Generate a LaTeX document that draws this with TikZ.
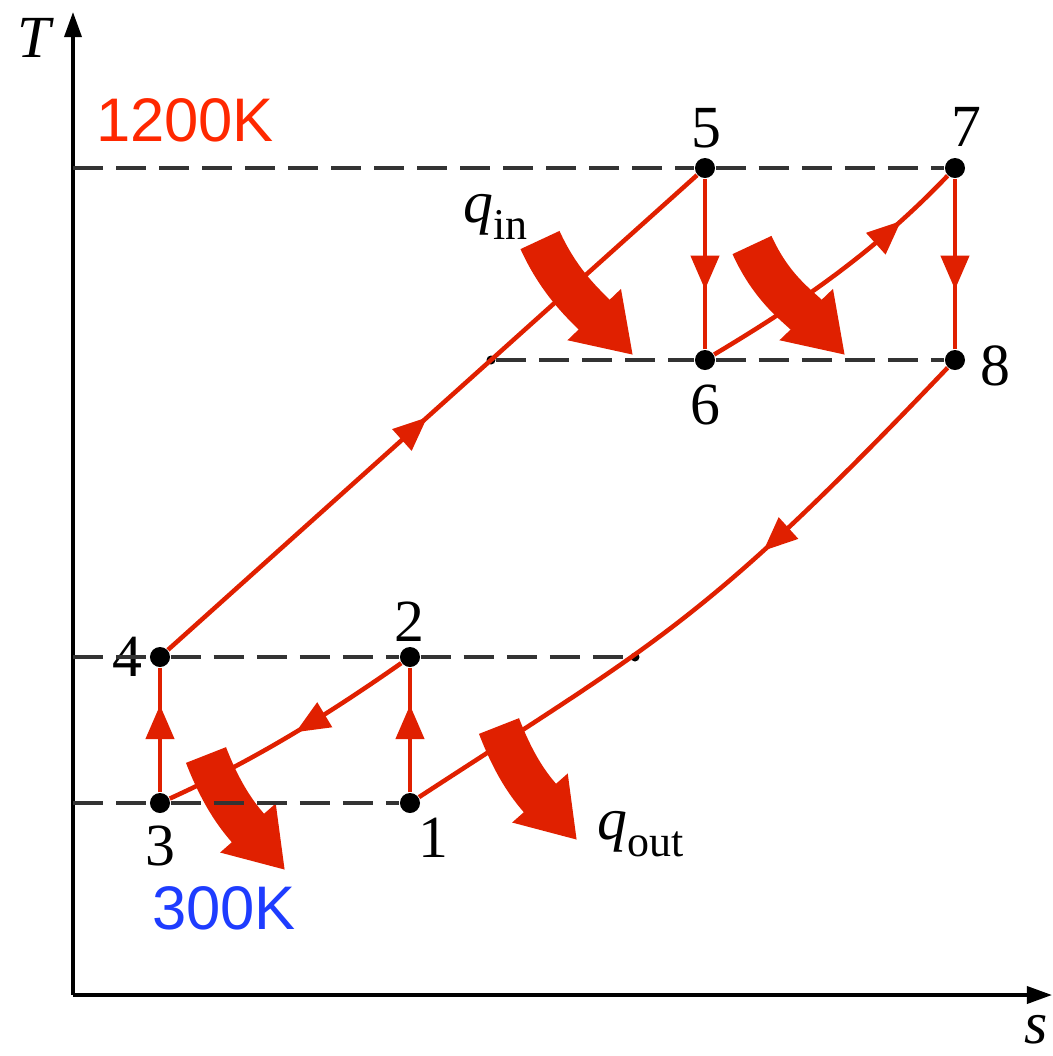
\documentclass[tikz,border=0pt]{standalone}
\usepackage{fontspec}
\setmainfont{Liberation Serif}
\setsansfont{Liberation Sans}
\usepackage{xcolor}
\usepackage{tikz}
\usetikzlibrary{arrows.meta, decorations.markings}

\definecolor{cyclered}{RGB}{224,32,0}
\definecolor{hotred}{RGB}{255,40,0}
\definecolor{coldblue}{RGB}{30,60,255}

\tikzset{
  state/.style = {circle, fill=black, inner sep=0pt, minimum size=0.2cm},
  joint/.style = {circle, fill=black, inner sep=0pt, minimum size=0.09cm},
  lbl/.style = {font=\fontsize{17}{20}\selectfont, inner sep=0pt},
  templbl/.style = {font=\sffamily\fontsize{17.5}{20}\selectfont, inner sep=0pt},
  guide/.style = {draw=black!80, line width=0.04cm, dash pattern=on 0.3cm off 0.13cm},
  process/.style = {draw=cyclered, line width=0.045cm},
  flow/.style = {postaction={decorate}, decoration={markings,
      mark=at position #1 with {\arrow{Triangle[length=0.34cm,width=0.28cm]}}}},
  heat/.style = {draw=cyclered, line width=0.43cm, -{Triangle[length=0.56cm,width=0.70cm]}},
  axis/.style = {line width=0.035cm, -{Triangle[length=0.25cm,width=0.17cm]}}
}

\begin{document}
\begin{tikzpicture}[x=0.01cm, y=-0.01cm]
  \useasboundingbox (0,0) rectangle (1053,1056);

  % axes
  \coordinate (O) at (73,995);
  \coordinate (Tend) at (73,12);
  \coordinate (send) at (1052,995);
  \draw[axis] (O) -- (Tend);
  \draw[axis] (O) -- (send);
  \node[lbl] (Tlab) at (36,38) {\textit{T}};
  \node[lbl] (slab) at (1036,1030) {\textit{s}};

  % states
  \node[state] (p1) at (410,803) {};
  \node[state] (p2) at (410,657) {};
  \node[state] (p3) at (160,803) {};
  \node[state] (p4) at (160,657) {};
  \node[state] (p5) at (705,168) {};
  \node[state] (p6) at (705,360) {};
  \node[state] (p7) at (955,168) {};
  \node[state] (p8) at (955,360) {};
  \node[joint] (j1) at (491,360) {};
  \node[joint] (j2) at (635,657) {};

  \node[lbl] (n1) at (433,838) {1};
  \node[lbl] (n2) at (409,622) {2};
  \node[lbl] (n3) at (160,846) {3};
  \node[lbl] (n4) at (127,657) {4};
  \node[lbl] (n5) at (706,128) {5};
  \node[lbl] (n6) at (705,405) {6};
  \node[lbl] (n7) at (966,127) {7};
  \node[lbl] (n8) at (995,366) {8};

  % heat arrows
  \draw[heat] (540,240) .. controls (560,284) and (586,306) .. (633,355);
  \draw[heat] (752,245) .. controls (772,289) and (798,306) .. (845,355);
  \draw[heat] (499,726) .. controls (516,770) and (532,789) .. (577,840);
  \draw[heat] (206,755) .. controls (223,799) and (240,819) .. (285,870);
  \node[lbl, anchor=base west] (qin) at (463,222)
    {\textit{q}\raisebox{-5pt}{\fontsize{12.5}{14}\selectfont in}};
  \node[lbl, anchor=base west] (qout) at (597,839)
    {\textit{q}\raisebox{-5pt}{\fontsize{12.5}{14}\selectfont out}};

  % temperature levels
  \coordinate (a5) at (73,168);
  \coordinate (a4) at (73,657);
  \coordinate (a3) at (73,803);
  \draw[guide] (a5) -- (p5);
  \draw[guide] (p5) -- (p7);
  \draw[guide] (j1) -- (p6);
  \draw[guide] (p6) -- (p8);
  \draw[guide] (a4) -- (p4);
  \draw[guide] (p4) -- (p2);
  \draw[guide] (p2) -- (j2);
  \draw[guide] (a3) -- (p3);
  \draw[guide] (p3) -- (p1);
  \node[templbl, text=hotred] (hot) at (185,120) {1200K};
  \node[templbl, text=coldblue] (cold) at (224,908) {300K};

  % cycle
  \draw[process, flow=0.70] (p1) -- (p2);
  \draw[process, flow=0.47] (p2) .. controls (320,720) and (250,762) .. (p3);
  \draw[process, flow=0.70] (p3) -- (p4);
  \draw[process, flow=0.49] (p4) -- (p5);
  \draw[process, flow=0.65] (p5) -- (p6);
  \draw[process, flow=0.78] (p6) .. controls (790,309) and (870,257) .. (p7);
  \draw[process, flow=0.65] (p7) -- (p8);
  \draw[process, flow=0.38] (p8) .. controls (705,622) and (660,640) .. (p1);
\end{tikzpicture}
\end{document}
